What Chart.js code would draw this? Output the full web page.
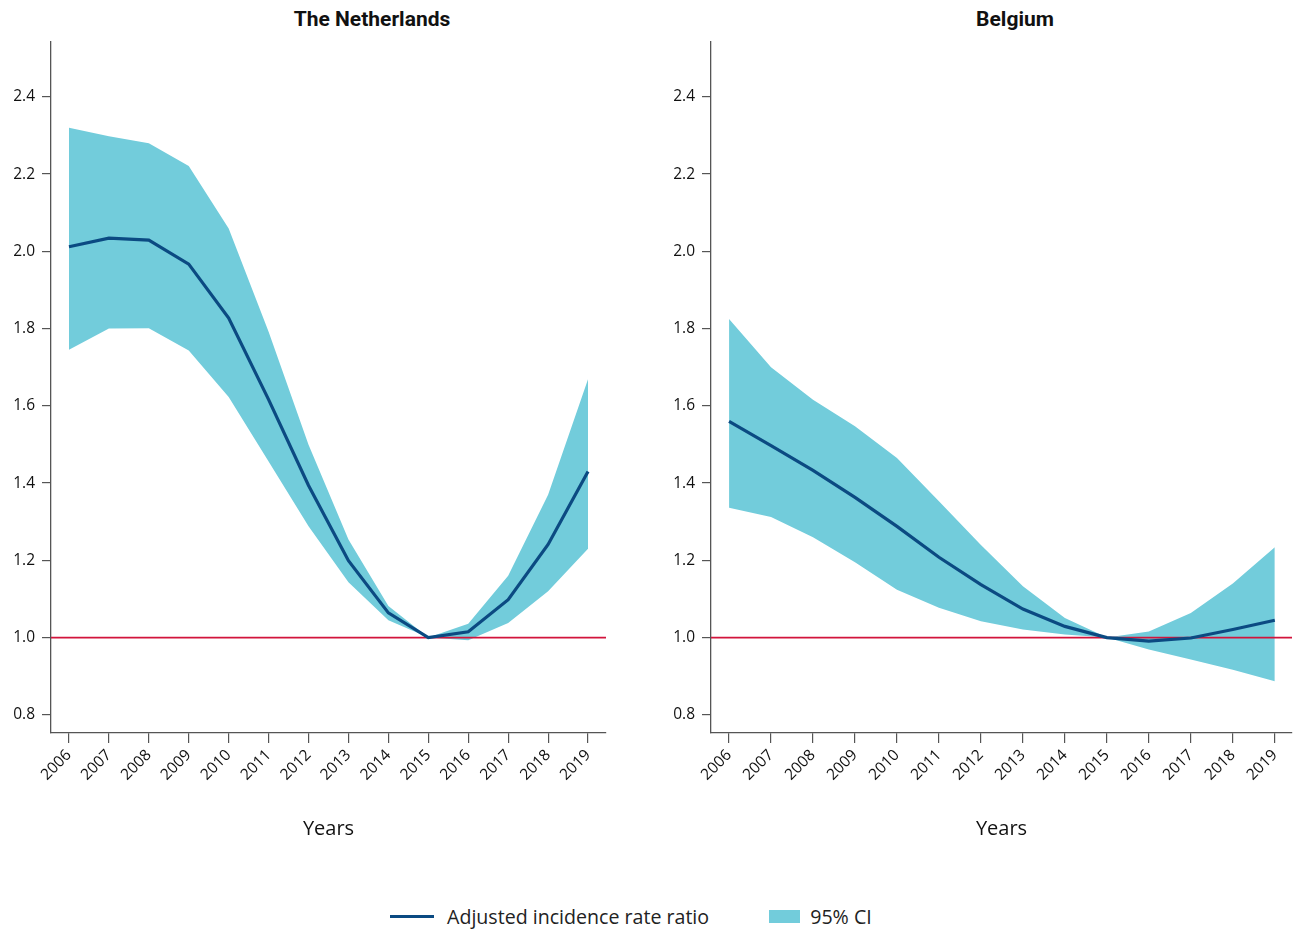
<!DOCTYPE html>
<html>
<head>
<meta charset="utf-8">
<script src="https://cdn.jsdelivr.net/npm/chart.js@4.4.0/dist/chart.umd.min.js"></script>
<style>
  body { margin: 0; background: #fff; width: 1293px; height: 929px; position: relative; overflow: hidden; font-family: "Open Sans", sans-serif; }
  canvas { position: absolute; top: 0; }
  .title { position: absolute; top: 7px; font-family: "Liberation Sans Narrow", "Roboto", sans-serif; font-weight: bold; font-size: 21px; color: #111; transform: translateX(-50%); white-space: nowrap; }
  .legend { position: absolute; top: 901px; left: 390px; font-size: 19.6px; color: #222; white-space: nowrap; }
  .legend span { display: inline-block; vertical-align: middle; }
</style>
</head>
<body>
<div class="title" style="left:372px">The Netherlands</div>
<div class="title" style="left:1015px">Belgium</div>
<canvas id="nlChart" width="640" height="850" style="left:0"></canvas>
<canvas id="beChart" width="643" height="850" style="left:650px"></canvas>
<div class="legend">
  <span style="width:44px;height:3px;background:#0b4a82;margin-right:13px"></span><span>Adjusted incidence rate ratio</span>
  <span style="width:31px;height:13px;background:#72ccdb;margin-left:55px;margin-right:10px"></span><span>95% CI</span>
</div>
<script>
var years = [2006, 2007, 2008, 2009, 2010, 2011, 2012, 2013, 2014, 2015, 2016, 2017, 2018, 2019];
var yTicks = [0.8, 1.0, 1.2, 1.4, 1.6, 1.8, 2.0, 2.2, 2.4];

var nlIrr   = [2.012, 2.034, 2.029, 1.967, 1.827, 1.616, 1.394, 1.199, 1.064, 1.0, 1.015, 1.098, 1.241, 1.430];
var nlUpper = [2.320, 2.298, 2.280, 2.221, 2.059, 1.792, 1.499, 1.254, 1.082, 1.0, 1.036, 1.160, 1.370, 1.669];
var nlLower = [1.745, 1.800, 1.801, 1.743, 1.623, 1.456, 1.288, 1.143, 1.045, 1.0, 0.993, 1.038, 1.120, 1.230];

var beIrr   = [1.560, 1.497, 1.433, 1.363, 1.288, 1.208, 1.137, 1.074, 1.029, 1.0, 0.991, 0.999, 1.021, 1.045];
var beUpper = [1.825, 1.700, 1.616, 1.547, 1.465, 1.353, 1.240, 1.133, 1.051, 1.0, 1.016, 1.064, 1.140, 1.234];
var beLower = [1.336, 1.312, 1.260, 1.195, 1.124, 1.077, 1.042, 1.021, 1.008, 1.0, 0.969, 0.943, 0.917, 0.887];

var refValue = 1.0;
var yMin = 0.753, yMax = 2.542;

function pts(vals) {
  return years.map(function (yr, i) { return { x: yr, y: vals[i] }; });
}

function makeChart(id, irr, upper, lower, xMin, xMax, axisWidth, padRight) {
  var ctx = document.getElementById(id).getContext('2d');
  return new Chart(ctx, {
    type: 'line',
    data: {
      datasets: [
        { data: pts(irr), borderColor: '#0b4a82', borderWidth: 3.2, pointRadius: 0, fill: false, order: 0, tension: 0 },
        { data: [{ x: xMin, y: refValue }, { x: xMax, y: refValue }], borderColor: '#d2143c', borderWidth: 1.6, pointRadius: 0, fill: false, order: 1 },
        { data: pts(upper), borderWidth: 0, pointRadius: 0, backgroundColor: '#72ccdb', fill: '+1', order: 2 },
        { data: pts(lower), borderWidth: 0, pointRadius: 0, fill: false, order: 3 }
      ]
    },
    options: {
      responsive: false,
      animation: false,
      layout: { padding: { top: 42, right: padRight, left: 0, bottom: 0 } },
      plugins: { legend: { display: false }, tooltip: { enabled: false } },
      scales: {
        x: {
          type: 'linear',
          min: xMin,
          max: xMax,
          afterBuildTicks: function (scale) { scale.ticks = years.map(function (v) { return { value: v }; }); },
          afterFit: function (scale) { scale.height = 117; },
          ticks: {
            minRotation: 45, maxRotation: 45, padding: 3,
            color: '#111', font: { family: 'Open Sans', size: 15.5 },
            callback: function (v) { return String(v); }
          },
          grid: { drawOnChartArea: false, drawTicks: true, tickLength: 10, color: '#555', lineWidth: 1.2 },
          border: { display: true, color: '#555', width: 1.3 },
          title: { display: true, text: 'Years', color: '#111', font: { family: 'Open Sans', size: 20 }, padding: { top: 0, bottom: 9 } }
        },
        y: {
          min: yMin,
          max: yMax,
          afterBuildTicks: function (scale) { scale.ticks = yTicks.map(function (v) { return { value: v }; }); },
          afterFit: function (scale) { scale.width = axisWidth; },
          ticks: {
            padding: 7, color: '#111', font: { family: 'Open Sans', size: 15.5 },
            callback: function (v) { return v.toFixed(1); }
          },
          grid: { drawOnChartArea: false, drawTicks: true, tickLength: 9, color: '#555', lineWidth: 1.2 },
          border: { display: true, color: '#555', width: 1.3 }
        }
      }
    }
  });
}

makeChart('nlChart', nlIrr, nlUpper, nlLower, 2005.55, 2019.45, 51, 34);
makeChart('beChart', beIrr, beUpper, beLower, 2005.57, 2019.41, 61, 1);
</script>
</body>
</html>
